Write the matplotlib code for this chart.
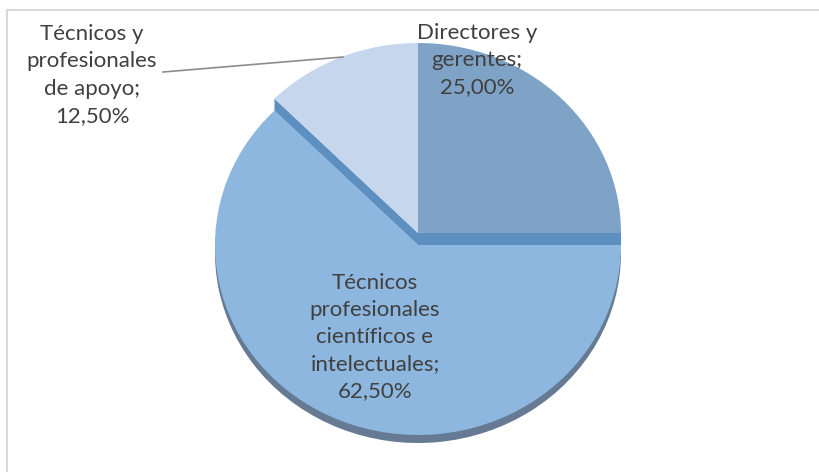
import matplotlib
matplotlib.use("Agg")
import matplotlib.pyplot as plt
from matplotlib.patches import Wedge, Polygon
from matplotlib.lines import Line2D
import numpy as np

categories = ["Directores y\ngerentes", "Técnicos y\nprofesionales\nde apoyo",
              "Técnicos\nprofesionales\ncientíficos e\nintelectuales"]
values = [25.0, 12.5, 62.5]
colors = ["#7fa3c6", "#c6d7ed", "#8db7de"]

W, H = 819, 472
RX, RY = 203.0, 190.0           # pie radii in pixels (slightly elliptical)
CX, CY = 418.0, 233.0           # centre of the upper slices (pixels, y down)
DROP = 12.0                     # the big slice sits lower
RIM = 8.0                       # visible side thickness at the bottom

fig = plt.figure(figsize=(W / 100, H / 100), dpi=100)
ax = fig.add_axes([0, 0, 1, 1])

def X(px):
    return px / RX

def Y(py):
    return (H - py) / RY

plt.rcParams['font.family'] = ['Lato', 'DejaVu Sans']

wedges, _ = ax.pie(values, colors=colors, startangle=0, counterclock=True,
                   radius=1.0, center=(X(CX), Y(CY)),
                   wedgeprops=dict(linewidth=0))
ax.set_aspect('auto')
ax.set_xlim(0, W / RX)
ax.set_ylim(0, H / RY)
ax.axis('off')

big = wedges[2]
big.set_center((X(CX), Y(CY + DROP)))
big.set_zorder(2)

# bottom rim of the big slice
rim = Wedge((X(CX), Y(CY + DROP + RIM)), 1.0, big.theta1, big.theta2,
            facecolor="#667b93", edgecolor="none", zorder=1)
ax.add_patch(rim)

# side bands below the radial edges of the upper slices
def band(theta):
    t = np.deg2rad(theta)
    x0, y0 = X(CX), Y(CY)
    x1, y1 = x0 + np.cos(t), y0 + np.sin(t)
    d = DROP / RY
    return Polygon([[x0, y0], [x1, y1], [x1, y1 - d], [x0, y0 - d]],
                   closed=True, facecolor="#5d8fc1", edgecolor="none", zorder=3)

ax.add_patch(band(wedges[0].theta1))
ax.add_patch(band(wedges[1].theta2))
wedges[0].set_zorder(4)
wedges[1].set_zorder(4)

def fmt(name, v):
    return f"{name};\n{v:.2f}%".replace('.', ',')

label_pos = [(477, 60), (92, 75), (375, 337)]
for name, v, (px, py) in zip(categories, values, label_pos):
    ax.text(X(px), Y(py), fmt(name, v), ha='center', va='center',
            fontsize=16, color="#404040", linespacing=1.45, zorder=6)

# leader line for the small slice
ax.plot([X(163), X(343)], [Y(72), Y(57)], color="#8c8c8c", lw=1.2, zorder=5)

# chart area border (top and left visible)
fig.lines.append(Line2D([6.5 / W, 1], [1 - 9.5 / H, 1 - 9.5 / H],
                        transform=fig.transFigure, color="#d9d9d9", lw=1.5))
fig.lines.append(Line2D([6.5 / W, 6.5 / W], [0, 1 - 9.5 / H],
                        transform=fig.transFigure, color="#d9d9d9", lw=1.5))

fig.savefig("out.png", dpi=100, facecolor="white")
